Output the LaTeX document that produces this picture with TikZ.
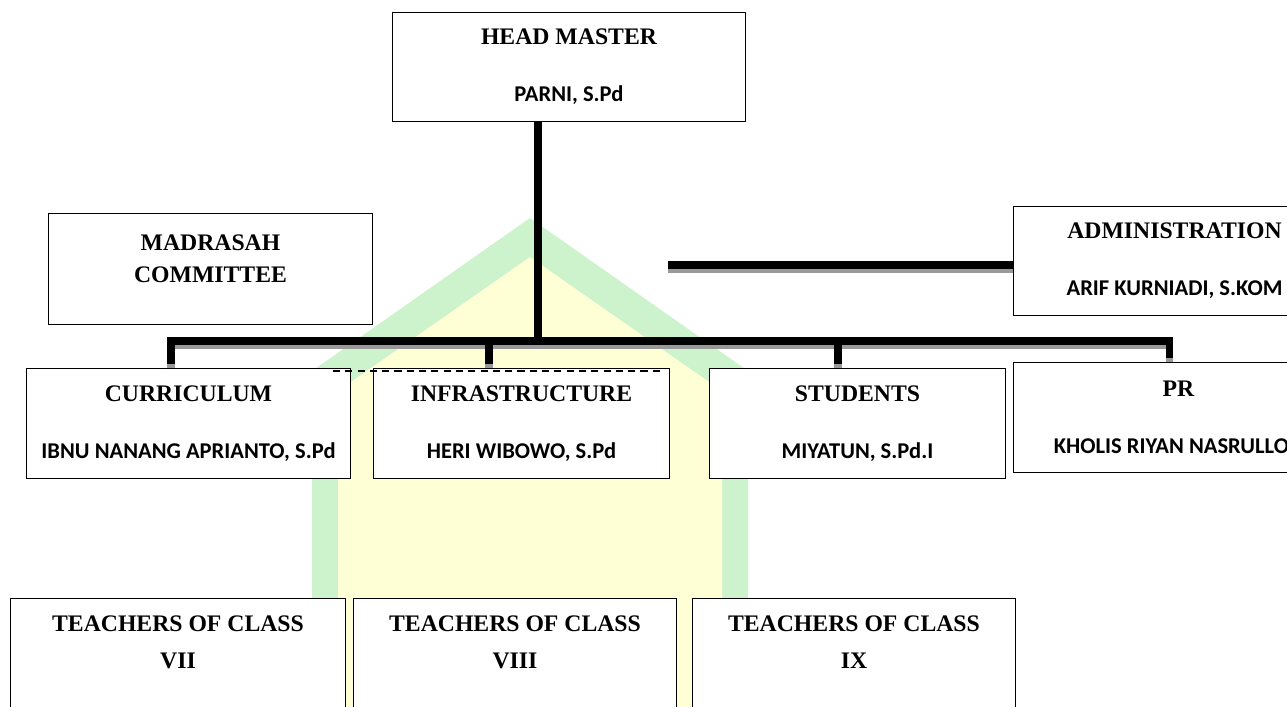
\documentclass[tikz,border=0pt]{standalone}
\usepackage{fontspec}
\setmainfont{Liberation Serif}
\newfontfamily\namefont{Carlito}[Scale=0.95]
\usetikzlibrary{positioning}
\definecolor{markgreen}{RGB}{205,243,205}
\definecolor{markyellow}{RGB}{255,255,214}

\begin{document}
\begin{tikzpicture}[
    x=0.02cm, y=-0.02cm,
    box/.style={rectangle, draw=black, line width=0.6pt, fill=white, anchor=north west, align=center, inner sep=0pt,
        font=\fontsize{13.5}{18}\selectfont\bfseries},
    link/.style={line width=4pt, preaction={draw=black!40, line width=4pt, transform canvas={yshift=-2.5pt}}},
    trunk/.style={line width=4.5pt}
]
    \useasboundingbox (0,0) rectangle (1287,706);
    \clip (0,0) rectangle (1287,706);

    \fill[markgreen] (312,720) -- (312,371) -- (530,218) -- (748,371) -- (748,720) -- cycle;
    \fill[markyellow] (338,720) -- (338,391) -- (530,257) -- (722,391) -- (722,720) -- cycle;

    \node[box, minimum width=7.06cm, minimum height=2.18cm] (head) at (392,12) {HEAD MASTER\\[14.5pt]{\namefont PARNI, S.Pd}};
    \node[box, minimum width=6.48cm, minimum height=2.22cm] (comm) at (48,213) {MADRASAH\\COMMITTEE\\[-6pt]~};
    \node[box, minimum width=6.44cm, minimum height=2.18cm] (admin) at (1013,206) {ADMINISTRATION\\[14.5pt]{\namefont ARIF KURNIADI, S.KOM}};

    \node[box, minimum width=6.48cm, minimum height=2.2cm] (cur) at (26,368) {CURRICULUM\\[14.5pt]{\namefont IBNU NANANG APRIANTO, S.Pd}};
    \node[box, minimum width=5.92cm, minimum height=2.2cm, right=0.44cm of cur] (infra) {INFRASTRUCTURE\\[14.5pt]{\namefont HERI WIBOWO, S.Pd}};
    \node[box, minimum width=5.92cm, minimum height=2.2cm, right=0.78cm of infra] (stud) {STUDENTS\\[14.5pt]{\namefont MIYATUN, S.Pd.I}};
    \node[box, minimum width=6.6cm, minimum height=2.2cm] (pr) at (1013,362) {PR\\[14.5pt]{\namefont KHOLIS RIYAN NASRULLOH}};

    \node[box, minimum width=6.7cm, minimum height=2.48cm] (seven) at (10,598) {TEACHERS OF CLASS\\[3pt]VII\\[3pt]~};
    \node[box, minimum width=6.46cm, minimum height=2.48cm, right=0.14cm of seven] (eight) {TEACHERS OF CLASS\\[3pt]VIII\\[3pt]~};
    \node[box, minimum width=6.46cm, minimum height=2.48cm, right=0.3cm of eight] (nine) {TEACHERS OF CLASS\\[3pt]IX\\[3pt]~};

    \coordinate (hub) at (538,341);
    \coordinate (d1) at (171,341);
    \coordinate (d2) at (489,341);
    \coordinate (d3) at (838,341);
    \coordinate (d4) at (1169,341);
    \coordinate (adm) at (668,265);
    \coordinate (dl) at (333,371);
    \coordinate (dr) at (663,371);

    \draw[trunk] (head.south -| hub) -- (hub);
    \draw[link, shorten <=0.08cm, shorten >=0.08cm] (d1 |- cur.north) -- (d1) -- (d4) -- (d4 |- pr.north);
    \draw[link, shorten >=0.08cm] (d2) -- (d2 |- infra.north);
    \draw[link, shorten >=0.08cm] (d3) -- (d3 |- stud.north);
    \draw[link] (adm) -- (adm -| admin.west);
    \draw[line width=0.6pt, dash pattern=on 4pt off 3pt] (dl) -- (dr);
\end{tikzpicture}
\end{document}
